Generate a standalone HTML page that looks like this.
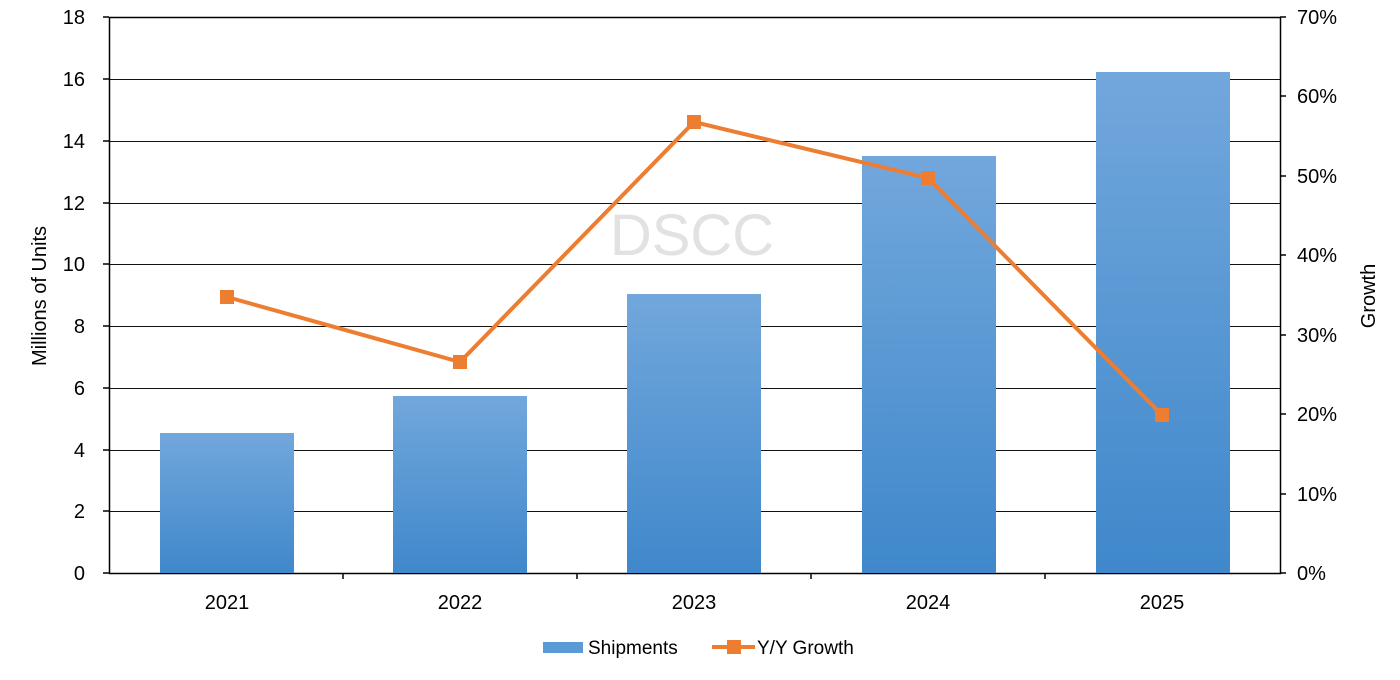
<!DOCTYPE html>
<html><head><meta charset="utf-8"><style>
html,body{margin:0;padding:0;background:#fff;}
svg{display:block;font-family:"Liberation Sans",sans-serif;}
</style></head><body>
<svg width="1400" height="680" viewBox="0 0 1400 680" xmlns="http://www.w3.org/2000/svg">
<defs>
<linearGradient id="g" x1="0" y1="0" x2="0" y2="1">
<stop offset="0" stop-color="#72a7dc"/><stop offset="1" stop-color="#3f88cb"/>
</linearGradient>
</defs>
<g stroke="#111" stroke-width="1">
<line x1="109" y1="79.5" x2="1280" y2="79.5"/>
<line x1="109" y1="141.5" x2="1280" y2="141.5"/>
<line x1="109" y1="203.5" x2="1280" y2="203.5"/>
<line x1="109" y1="264.5" x2="1280" y2="264.5"/>
<line x1="109" y1="326.5" x2="1280" y2="326.5"/>
<line x1="109" y1="388.5" x2="1280" y2="388.5"/>
<line x1="109" y1="450.5" x2="1280" y2="450.5"/>
<line x1="109" y1="511.5" x2="1280" y2="511.5"/>
</g>
<rect x="109.5" y="17.5" width="1171" height="556" fill="none" stroke="#000" stroke-width="1.5"/>
<text x="692" y="255" font-size="58" fill="#e2e2e2" text-anchor="middle">DSCC</text>
<g fill="url(#g)">
<rect x="160" y="433" width="134" height="140"/>
<rect x="393" y="396" width="134" height="177"/>
<rect x="627" y="294" width="134" height="279"/>
<rect x="862" y="156" width="134" height="417"/>
<rect x="1096" y="72" width="134" height="501"/>
</g>
<g stroke="#000" stroke-width="1.5">
<line x1="103" y1="17" x2="109" y2="17"/><line x1="103" y1="79" x2="109" y2="79"/><line x1="103" y1="141" x2="109" y2="141"/><line x1="103" y1="203" x2="109" y2="203"/><line x1="103" y1="264" x2="109" y2="264"/><line x1="103" y1="326" x2="109" y2="326"/><line x1="103" y1="388" x2="109" y2="388"/><line x1="103" y1="450" x2="109" y2="450"/><line x1="103" y1="511" x2="109" y2="511"/><line x1="103" y1="573" x2="109" y2="573"/>
<line x1="1280" y1="17" x2="1286" y2="17"/><line x1="1280" y1="96" x2="1286" y2="96"/><line x1="1280" y1="176" x2="1286" y2="176"/><line x1="1280" y1="255" x2="1286" y2="255"/><line x1="1280" y1="335" x2="1286" y2="335"/><line x1="1280" y1="414" x2="1286" y2="414"/><line x1="1280" y1="494" x2="1286" y2="494"/><line x1="1280" y1="573" x2="1286" y2="573"/>
<line x1="343" y1="573" x2="343" y2="579"/><line x1="577" y1="573" x2="577" y2="579"/><line x1="811" y1="573" x2="811" y2="579"/><line x1="1045" y1="573" x2="1045" y2="579"/>
</g>
<polyline points="227,297 460,362 694,122 928,178 1162,415" fill="none" stroke="#ed7d31" stroke-width="4"/>
<g fill="#ed7d31">
<rect x="220" y="290" width="14" height="14"/><rect x="453" y="355" width="14" height="14"/><rect x="687" y="115" width="14" height="14"/><rect x="921" y="171" width="14" height="14"/><rect x="1155" y="408" width="14" height="14"/>
</g>
<g font-size="20" fill="#000" text-anchor="end">
<text x="85" y="24">18</text><text x="85" y="86">16</text><text x="85" y="148">14</text><text x="85" y="210">12</text><text x="85" y="271">10</text><text x="85" y="333">8</text><text x="85" y="395">6</text><text x="85" y="457">4</text><text x="85" y="518">2</text><text x="85" y="580">0</text>
</g>
<g font-size="20" fill="#000">
<text x="1297" y="24">70%</text><text x="1297" y="103">60%</text><text x="1297" y="183">50%</text><text x="1297" y="262">40%</text><text x="1297" y="342">30%</text><text x="1297" y="421">20%</text><text x="1297" y="501">10%</text><text x="1297" y="580">0%</text>
</g>
<g font-size="20" fill="#000" text-anchor="middle">
<text x="227" y="609">2021</text><text x="460" y="609">2022</text><text x="694" y="609">2023</text><text x="928" y="609">2024</text><text x="1162" y="609">2025</text>
</g>
<text transform="translate(46,296) rotate(-90)" font-size="20" text-anchor="middle">Millions of Units</text>
<text transform="translate(1375,296) rotate(-90)" font-size="20" text-anchor="middle">Growth</text>
<rect x="543" y="642" width="40" height="11" fill="#5b9bd5"/>
<text x="588" y="654" font-size="19">Shipments</text>
<line x1="712" y1="647" x2="755" y2="647" stroke="#ed7d31" stroke-width="4"/>
<rect x="727" y="640" width="14" height="14" fill="#ed7d31"/>
<text x="757" y="654" font-size="19">Y/Y Growth</text>
</svg>
</body></html>
